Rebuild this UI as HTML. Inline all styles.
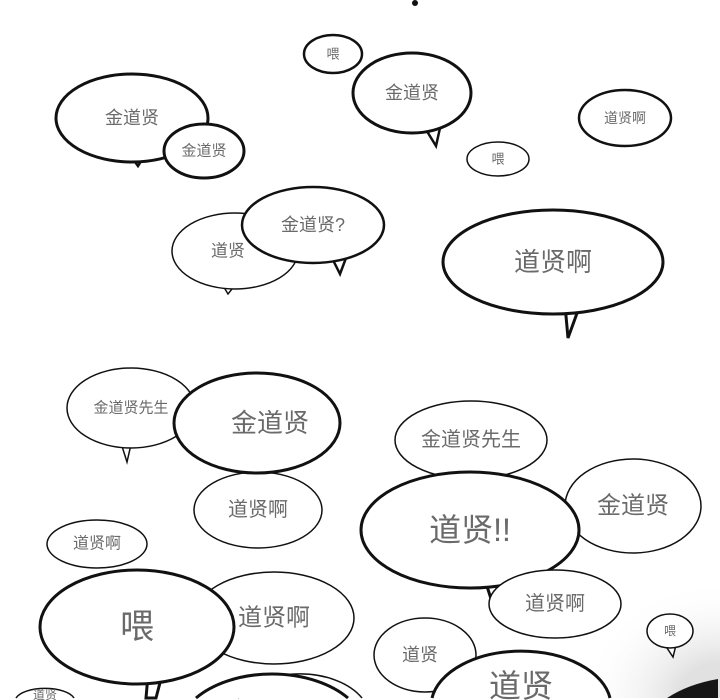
<!DOCTYPE html>
<html><head><meta charset="utf-8"><style>
html,body{margin:0;padding:0;background:#fff;width:720px;height:700px;overflow:hidden;}
svg{display:block;}
text{font-family:"Liberation Sans","Noto Sans CJK SC",sans-serif;fill:#6a6a6a;text-anchor:middle;dominant-baseline:central;}
ellipse,path{fill:#fff;stroke:#111;}
</style></head><body>
<svg width="720" height="700" viewBox="0 0 720 700" xmlns="http://www.w3.org/2000/svg" overflow="hidden">
<defs>
<radialGradient id="g" cx="1" cy="1" r="1">
<stop offset="0.3" stop-color="#aaa"/><stop offset="1" stop-color="#fff" stop-opacity="0"/>
</radialGradient>
</defs>
<rect x="580" y="580" width="140" height="118" fill="url(#g)" opacity="0.35"/>
<path d="M667 698 A112 72 0 0 1 718 679 L718 698 Z" style="fill:#151515;stroke:none"/>
<circle cx="415" cy="3" r="3" style="fill:#111;stroke:none"/>

<ellipse cx="333" cy="54" rx="29" ry="19" stroke-width="2.5"/><text x="333" y="54" font-size="13">喂</text>

<path d="M130 155 L138 166 L145 155 Z" stroke-width="2.5"/>
<ellipse cx="132" cy="118" rx="76" ry="44" stroke-width="3"/><text x="132" y="118" font-size="18">金道贤</text>
<ellipse cx="204" cy="151" rx="40" ry="27" stroke-width="3"/><text x="204" y="151" font-size="15">金道贤</text>

<path d="M425 128 L436 146 L440 128 Z" stroke-width="2.5"/>
<ellipse cx="412" cy="93" rx="59" ry="40" stroke-width="3"/><text x="412" y="93" font-size="18">金道贤</text>
<ellipse cx="625" cy="118" rx="46" ry="28" stroke-width="2.5"/><text x="625" y="118" font-size="14">道贤啊</text>
<ellipse cx="498" cy="159" rx="31" ry="17" stroke-width="1.5"/><text x="498" y="159" font-size="13">喂</text>

<path d="M222 284 L228 294 L236 284 Z" stroke-width="1.5"/>
<ellipse cx="235" cy="251" rx="63" ry="38" stroke-width="1.5"/><text x="228" y="251" font-size="17">道贤</text>
<path d="M332 258 L340 274 L346 258 Z" stroke-width="2.5"/>
<ellipse cx="313" cy="225" rx="71" ry="38" stroke-width="2.5"/><text x="313" y="225" font-size="18">金道贤?</text>

<path d="M565 305 L568 338 L580 305 Z" stroke-width="3"/>
<ellipse cx="553" cy="262" rx="110" ry="52" stroke-width="3"/><text x="553" y="262" font-size="26">道贤啊</text>

<path d="M120 440 L127 462 L132 440 Z" stroke-width="1.5"/>
<ellipse cx="131" cy="408" rx="64" ry="40" stroke-width="1.5"/><text x="131" y="408" font-size="15">金道贤先生</text>
<ellipse cx="471" cy="440" rx="76" ry="39" stroke-width="1.5"/><text x="471" y="440" font-size="20">金道贤先生</text>
<ellipse cx="258" cy="510" rx="64" ry="38" stroke-width="1.5"/><text x="258" y="510" font-size="20">道贤啊</text>
<ellipse cx="257" cy="423" rx="83" ry="50" stroke-width="3"/><text x="270" y="423" font-size="26">金道贤</text>
<ellipse cx="633" cy="506" rx="68" ry="47" stroke-width="1.5"/><text x="633" y="506" font-size="24">金道贤</text>
<path d="M485 580 L492 602 L500 580 Z" stroke-width="3"/>
<ellipse cx="470" cy="530" rx="109" ry="58" stroke-width="3"/><text x="470" y="530" font-size="32">道贤!!</text>

<ellipse cx="97" cy="544" rx="50" ry="24" stroke-width="1.5"/><text x="97" y="544" font-size="16">道贤啊</text>
<ellipse cx="555" cy="604" rx="66" ry="34" stroke-width="1.5"/><text x="555" y="604" font-size="20">道贤啊</text>
<ellipse cx="274" cy="618" rx="80" ry="46" stroke-width="1.5"/><text x="274" y="618" font-size="24">道贤啊</text>
<path d="M148 675 L146 698 L156 698 L162 675 Z" stroke-width="3"/>
<ellipse cx="137" cy="627" rx="97" ry="57" stroke-width="3"/><text x="137" y="627" font-size="34">喂</text>

<path d="M665 645 L673 657 L676 645 Z" stroke-width="1.5"/>
<ellipse cx="670" cy="631" rx="23" ry="17" stroke-width="1.5"/><text x="670" y="631" font-size="12">喂</text>
<ellipse cx="425" cy="655" rx="51" ry="37" stroke-width="1.5"/><text x="420" y="655" font-size="18">道贤</text>
<path d="M432 698 A90 55 0 0 1 610 698" stroke-width="3"/><text x="521" y="686" font-size="32">道贤</text>

<path d="M16 698 A30 13 0 0 1 74 698" stroke-width="1.5"/><text x="45" y="695" font-size="12">道贤</text>
<path d="M238 698 A70 45 0 0 1 362 698" stroke-width="1.5"/>
<path d="M196 698 A95 60 0 0 1 348 698" stroke-width="3"/>
</svg>
</body></html>
